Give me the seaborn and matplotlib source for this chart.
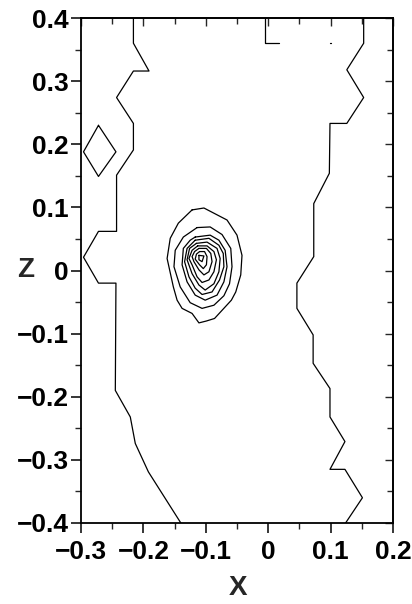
import numpy as np
import pandas as pd
import matplotlib
matplotlib.use("Agg")
import matplotlib.pyplot as plt
import seaborn as sns
from matplotlib.ticker import MultipleLocator, FixedLocator

# ---- contour line data (x, z) ----
left_x = [-0.216, -0.216, -0.191, -0.216, -0.243, -0.216, -0.216, -0.243, -0.243, -0.272,
          -0.296, -0.272, -0.244, -0.245, -0.221, -0.213, -0.192, -0.140]
left_z = [0.400, 0.360, 0.316, 0.316, 0.274, 0.233, 0.191, 0.151, 0.062, 0.062,
          0.021, -0.020, -0.020, -0.190, -0.232, -0.274, -0.319, -0.400]

right_x = [0.153, 0.153, 0.126, 0.153, 0.126, 0.099, 0.098, 0.073, 0.073, 0.046,
           0.046, 0.072, 0.072, 0.099, 0.099, 0.123, 0.099, 0.123, 0.151, 0.124]
right_z = [0.400, 0.360, 0.318, 0.274, 0.233, 0.233, 0.154, 0.106, 0.022, -0.020,
           -0.060, -0.102, -0.147, -0.187, -0.232, -0.271, -0.315, -0.315, -0.360, -0.400]

top_x = [-0.005, -0.005, 0.018]
top_z = [0.400, 0.360, 0.360]

dot_x = [0.099, 0.101]
dot_z = [0.360, 0.360]

diamond_x = [-0.272, -0.244, -0.272, -0.296]
diamond_z = [0.230, 0.188, 0.149, 0.188]

ring1_x = [-0.122, -0.103, -0.066, -0.050, -0.042, -0.044, -0.052, -0.059, -0.086, -0.099,
           -0.111, -0.122, -0.138, -0.146, -0.152, -0.162, -0.157, -0.144]
ring1_z = [0.096, 0.099, 0.080, 0.056, 0.024, -0.007, -0.034, -0.047, -0.076, -0.080,
           -0.083, -0.068, -0.060, -0.047, -0.026, 0.019, 0.051, 0.075]

ring2_x = [-0.114, -0.093, -0.074, -0.060, -0.058, -0.062, -0.071, -0.087, -0.106, -0.125,
           -0.141, -0.151, -0.149, -0.136]
ring2_z = [0.068, 0.069, 0.057, 0.035, 0.006, -0.021, -0.040, -0.055, -0.060, -0.051,
           -0.026, 0.006, 0.032, 0.053]

ring3_x = [-0.117, -0.093, -0.079, -0.069, -0.066, -0.071, -0.082, -0.101, -0.117, -0.130,
           -0.138, -0.136, -0.125]
ring3_z = [0.053, 0.056, 0.048, 0.032, 0.006, -0.018, -0.039, -0.047, -0.039, -0.018,
           0.009, 0.035, 0.048]

ring4_x = [-0.117, -0.095, -0.079, -0.072, -0.071, -0.078, -0.090, -0.106, -0.117, -0.127,
           -0.134, -0.130]
ring4_z = [0.048, 0.051, 0.040, 0.027, 0.006, -0.015, -0.034, -0.038, -0.028, -0.010,
           0.014, 0.035]

ring5_x = [-0.115, -0.098, -0.082, -0.077, -0.079, -0.087, -0.101, -0.111, -0.122, -0.130, -0.126]
ring5_z = [0.043, 0.045, 0.035, 0.019, -0.002, -0.021, -0.031, -0.023, -0.005, 0.017, 0.035]

ring6_x = [-0.113, -0.098, -0.087, -0.083, -0.087, -0.095, -0.106, -0.114, -0.122, -0.127, -0.122]
ring6_z = [0.039, 0.039, 0.030, 0.017, -0.002, -0.015, -0.019, -0.010, 0.009, 0.019, 0.032]

ring7_x = [-0.111, -0.099, -0.092, -0.090, -0.095, -0.103, -0.111, -0.119, -0.122, -0.118]
ring7_z = [0.035, 0.035, 0.027, 0.014, -0.002, -0.007, 0.001, 0.014, 0.022, 0.030]

ring8_x = [-0.110, -0.102, -0.098, -0.099, -0.104, -0.110, -0.117, -0.115]
ring8_z = [0.030, 0.030, 0.022, 0.009, 0.003, 0.009, 0.018, 0.026]

ring9_x = [-0.111, -0.103, -0.106, -0.111]
ring9_z = [0.024, 0.023, 0.014, 0.017]

x_ticks = [-0.3, -0.2, -0.1, 0.0, 0.1, 0.2]
x_ticklabels = ["\u22120.3", "\u22120.2", "\u22120.1", "0", "0.1", "0.2"]
z_ticks = [-0.4, -0.3, -0.2, -0.1, 0.0, 0.1, 0.2, 0.3, 0.4]
z_ticklabels = ["\u22120.4", "\u22120.3", "\u22120.2", "\u22120.1", "0", "0.1", "0.2", "0.3", "0.4"]

# ---- build a long table of contour paths ----
open_paths = {"left": (left_x, left_z), "right": (right_x, right_z),
              "top": (top_x, top_z), "dot": (dot_x, dot_z)}
closed_paths = {"diamond": (diamond_x, diamond_z),
                "r1": (ring1_x, ring1_z), "r2": (ring2_x, ring2_z),
                "r3": (ring3_x, ring3_z), "r4": (ring4_x, ring4_z),
                "r5": (ring5_x, ring5_z), "r6": (ring6_x, ring6_z),
                "r7": (ring7_x, ring7_z), "r8": (ring8_x, ring8_z),
                "r9": (ring9_x, ring9_z)}
frames = []
for name, (xs, zs) in open_paths.items():
    frames.append(pd.DataFrame({"x": xs, "z": zs, "line": name, "order": range(len(xs))}))
for name, (xs, zs) in closed_paths.items():
    xs2 = list(xs) + [xs[0]]
    zs2 = list(zs) + [zs[0]]
    frames.append(pd.DataFrame({"x": xs2, "z": zs2, "line": name, "order": range(len(xs2))}))
df = pd.concat(frames, ignore_index=True)

sns.set_style("ticks")
plt.rcParams["font.family"] = ["Liberation Sans", "DejaVu Sans"]
plt.rcParams["font.weight"] = "bold"

fig = plt.figure(figsize=(4.12, 6.04), dpi=100)
ax = fig.add_axes([81 / 412, 1 - 523 / 604, 312 / 412, 505 / 604])

sns.lineplot(data=df, x="x", y="z", units="line", estimator=None, sort=False,
             color="black", linewidth=0.9, ax=ax, legend=False)

ax.set_xlim(-0.3, 0.2)
ax.set_ylim(-0.4, 0.4)
ax.xaxis.set_major_locator(FixedLocator(x_ticks))
ax.set_xticklabels(x_ticklabels)
ax.yaxis.set_major_locator(FixedLocator(z_ticks))
ax.set_yticklabels(z_ticklabels)
ax.xaxis.set_minor_locator(MultipleLocator(0.05))
ax.yaxis.set_minor_locator(MultipleLocator(0.05))

for sp in ax.spines.values():
    sp.set_visible(True)
    sp.set_linewidth(1.3)
    sp.set_color("black")

ax.tick_params(axis="both", which="major", direction="out", length=7, width=1.1,
               labelsize=19, pad=2, colors="black")
ax.tick_params(axis="both", which="minor", direction="out", length=4, width=1.0)
ax.tick_params(axis="x", which="major", pad=5)
for lab in ax.get_xticklabels() + ax.get_yticklabels():
    lab.set_fontweight("bold")

# inward ticks on top and right
sec_x = ax.secondary_xaxis("top")
sec_x.xaxis.set_major_locator(FixedLocator(x_ticks))
sec_x.xaxis.set_minor_locator(MultipleLocator(0.05))
sec_x.tick_params(which="major", direction="in", length=6, width=1.0, labeltop=False)
sec_x.tick_params(which="minor", direction="in", length=4, width=1.0)
sec_x.spines["top"].set_linewidth(1.3)
sec_y = ax.secondary_yaxis("right")
sec_y.yaxis.set_major_locator(FixedLocator(z_ticks))
sec_y.yaxis.set_minor_locator(MultipleLocator(0.05))
sec_y.tick_params(which="major", direction="in", length=6, width=1.0, labelright=False)
sec_y.tick_params(which="minor", direction="in", length=4, width=1.0)
sec_y.spines["right"].set_linewidth(1.3)

ax.set_xlabel("X", fontsize=20, fontweight="bold")
ax.set_ylabel("Z", fontsize=20, fontweight="bold", rotation=0, ha="center", va="center")
ax.xaxis.set_label_coords(0.503, -0.128)
ax.yaxis.set_label_coords(-0.178, 0.501)
ax.xaxis.label.set_va("center")

fig.savefig("out.png", dpi=100, facecolor="white")
